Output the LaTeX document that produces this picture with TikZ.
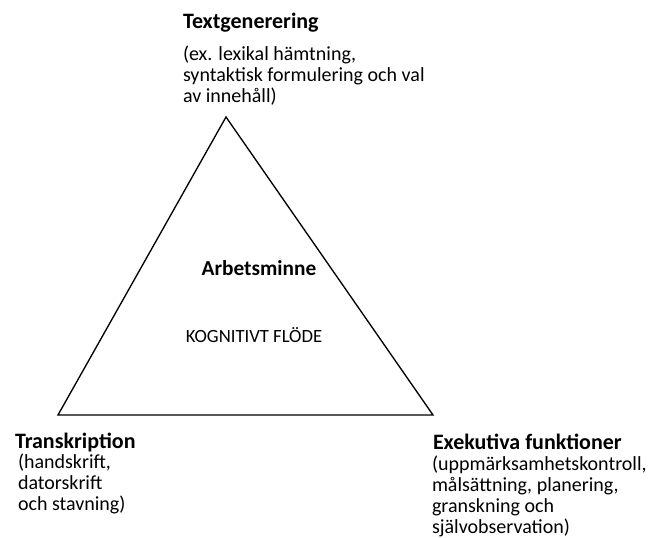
\documentclass[tikz,border=0pt]{standalone}
\usepackage{fontspec}
\setmainfont{Carlito}
\usetikzlibrary{positioning}
\tikzstyle{heading}=[inner sep=0, outer sep=0, anchor=north west, font=\bfseries\fontsize{16.5}{19}\selectfont]
\tikzstyle{details}=[inner sep=0, outer sep=0, anchor=north west, align=left, font=\fontsize{15}{15.6}\selectfont]
\tikzstyle{centre}=[inner sep=0, outer sep=0]
\tikzstyle{diagram}=[x=0.75pt, y=-0.75pt, line width=1pt, line join=miter]

\begin{document}
\begin{tikzpicture}[diagram]
    \useasboundingbox (0, 0) rectangle (649, 538);
    % corners of the triangle
    \coordinate (top) at (226, 117);
    \coordinate (left) at (58, 415);
    \coordinate (right) at (433, 415);
    \draw (top) -- (left) -- (right) -- cycle;

    % labels at the corners
    \node[heading] (textgen) at (183, 13) {Textgenerering};
    \node[details] (textgendetails) at (183, 46) {(ex. lexikal hämtning,\\syntaktisk formulering och val\\av innehåll)};
    \node[heading] (transkr) at (15, 433) {Transkription};
    \node[details] (transkrdetails) at (18, 454) {(handskrift,\\datorskrift\\och stavning)};
    \node[heading] (exekutiva) at (433, 434) {Exekutiva funktioner};
    \node[details] (exekutivadetails) at (432, 456) {(uppmärksamhetskontroll,\\målsättning, planering,\\granskning och\\självobservation)};

    % inside the triangle
    \node[centre, font=\bfseries\fontsize{16}{19}\selectfont] (arbetsminne) at (259, 268) {Arbetsminne};
    \node[centre, font=\fontsize{14}{17}\selectfont] (flode) at (254, 335) {KOGNITIVT FLÖDE};
\end{tikzpicture}
\end{document}
